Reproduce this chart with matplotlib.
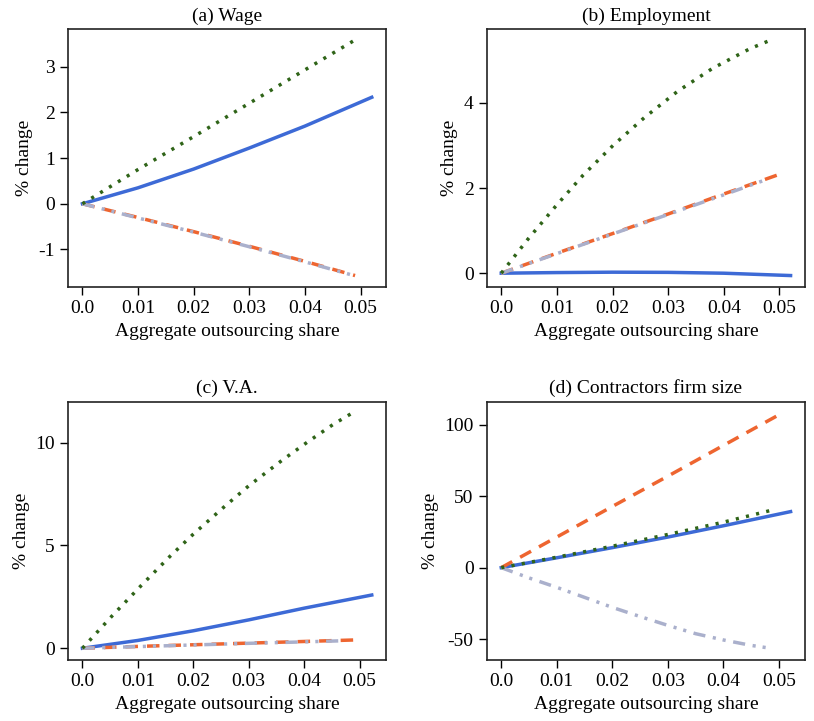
import numpy as np
import matplotlib.pyplot as plt

plt.rcParams['font.family'] = ['Liberation Serif', 'DejaVu Serif']
plt.rcParams['axes.unicode_minus'] = False
plt.rcParams['font.size'] = 14

# panel titles and ticks
titles = ["(a) Wage", "(b) Employment", "(c) V.A.", "(d) Contractors firm size"]
x_ticks = [0.0, 0.01, 0.02, 0.03, 0.04, 0.05]
x_ticklabels = ["0.0", "0.01", "0.02", "0.03", "0.04", "0.05"]
y_ticks = [[-1, 0, 1, 2, 3], [0, 2, 4], [0, 5, 10], [-50, 0, 50, 100]]

# (a) wage
a_blue_x = [0, 0.01, 0.02, 0.03, 0.04, 0.052]
a_blue_y = [0, 0.35, 0.76, 1.22, 1.70, 2.33]
a_green_x = [0, 0.01, 0.02, 0.03, 0.04, 0.0488]
a_green_y = [0, 0.75, 1.47, 2.2, 2.93, 3.57]
a_orange_x = [0, 0.01, 0.02, 0.03, 0.04, 0.049]
a_orange_y = [0, -0.30, -0.61, -0.93, -1.26, -1.57]
a_gray_x = [0, 0.01, 0.02, 0.03, 0.04, 0.0485]
a_gray_y = [0, -0.31, -0.62, -0.94, -1.27, -1.56]

# (b) employment
b_blue_x = [0, 0.01, 0.02, 0.03, 0.04, 0.052]
b_blue_y = [0, 0.015, 0.024, 0.02, 0.0, -0.055]
b_green_x = [0, 0.0048, 0.0097, 0.0147, 0.0201, 0.0257, 0.0317, 0.038, 0.0447, 0.0482]
b_green_y = [0, 0.80, 1.56, 2.30, 3.0, 3.65, 4.27, 4.81, 5.27, 5.46]
b_orange_x = [0, 0.01, 0.02, 0.03, 0.04, 0.0504]
b_orange_y = [0, 0.47, 0.93, 1.39, 1.86, 2.34]
b_gray_x = [0, 0.01, 0.02, 0.03, 0.04, 0.0481]
b_gray_y = [0, 0.46, 0.92, 1.38, 1.84, 2.22]

# (c) value added
c_blue_x = [0, 0.01, 0.02, 0.03, 0.04, 0.0522]
c_blue_y = [0, 0.38, 0.85, 1.38, 1.95, 2.59]
c_green_x = [0, 0.0053, 0.0106, 0.0159, 0.02, 0.0257, 0.03, 0.036, 0.0406, 0.0453, 0.0486]
c_green_y = [0, 1.56, 3.05, 4.5, 5.55, 6.91, 7.9, 9.14, 10.03, 10.9, 11.43]
c_orange_x = [0, 0.01, 0.02, 0.03, 0.04, 0.0499]
c_orange_y = [0, 0.09, 0.17, 0.25, 0.33, 0.41]
c_gray_x = [0, 0.01, 0.02, 0.03, 0.04, 0.0464]
c_gray_y = [0, 0.08, 0.16, 0.24, 0.31, 0.36]

# (d) contractors firm size
d_blue_x = [0, 0.01, 0.02, 0.03, 0.04, 0.0521]
d_blue_y = [0, 6.9, 14.0, 21.4, 29.3, 39.2]
d_green_x = [0, 0.01, 0.02, 0.03, 0.04, 0.0487]
d_green_y = [0, 7.3, 15.0, 23.2, 31.8, 40.2]
d_orange_x = [0, 0.01, 0.02, 0.03, 0.04, 0.0505]
d_orange_y = [0, 21.4, 42.8, 64.0, 85.5, 108.0]
d_gray_x = [0, 0.005, 0.01, 0.015, 0.02, 0.025, 0.03, 0.035, 0.04, 0.045, 0.0485]
d_gray_y = [0, -7.2, -13.8, -20.8, -27.8, -34.2, -40.4, -46.2, -50.6, -54.4, -56.4]

panels = [
  [(a_blue_x, a_blue_y), (a_orange_x, a_orange_y), (a_gray_x, a_gray_y), (a_green_x, a_green_y)],
  [(b_blue_x, b_blue_y), (b_orange_x, b_orange_y), (b_gray_x, b_gray_y), (b_green_x, b_green_y)],
  [(c_blue_x, c_blue_y), (c_orange_x, c_orange_y), (c_gray_x, c_gray_y), (c_green_x, c_green_y)],
  [(d_blue_x, d_blue_y), (d_orange_x, d_orange_y), (d_gray_x, d_gray_y), (d_green_x, d_green_y)],
]

# blue solid, orange dashed, gray dash-dot-dot, green dotted
colors = ["#3d6ad6", "#ee6530", "#aab0cc", "#2f6418"]
dash_patterns = [None, (3.6, 2.6), (3.5, 2.2, 0.9, 2.0, 0.9, 2.2), (0.9, 2.1)]

fig, axes = plt.subplots(2, 2, figsize=(8.14, 7.21), dpi=100)
fig.subplots_adjust(left=0.0835, right=0.989, top=0.96, bottom=0.0846,
                    wspace=0.316, hspace=0.442)

for k, ax in enumerate(axes.flat):
  for (x, y), c, d in zip(panels[k], colors, dash_patterns):
    if d is None:
      ax.plot(x, y, color=c, linestyle="-", linewidth=2.5)
    else:
      ax.plot(x, y, color=c, linewidth=2.5, dashes=d)
  ax.set_title(titles[k], fontsize=14)
  ax.set_xticks(x_ticks)
  ax.set_xticklabels(x_ticklabels)
  ax.set_yticks(y_ticks[k])
  ax.set_yticklabels([str(v) for v in y_ticks[k]])
  ax.set_xlabel("Aggregate outsourcing share", fontsize=14)
  ax.set_ylabel("% change", fontsize=14)
  ax.tick_params(direction="out", length=6, width=1, labelsize=14)
  for s in ax.spines.values():
    s.set_linewidth(1.2)
    s.set_color("#222222")

fig.savefig("out.png", dpi=100)
